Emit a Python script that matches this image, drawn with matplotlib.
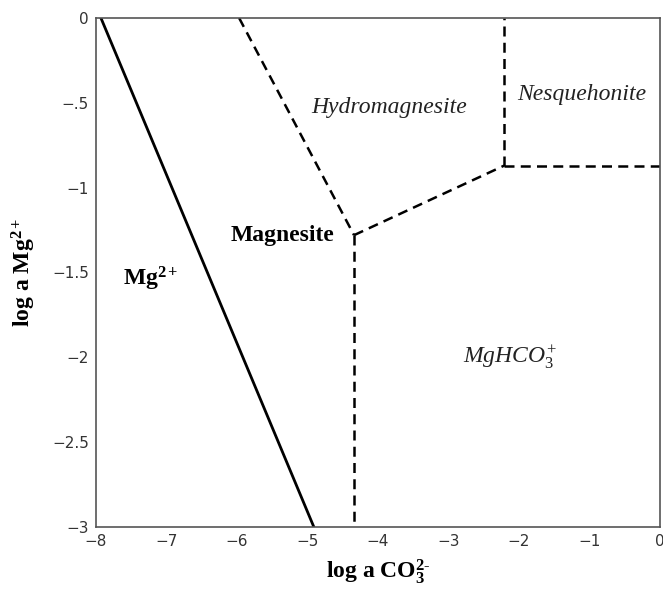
import matplotlib
matplotlib.use('Agg')
import matplotlib.pyplot as plt

serif = 'Liberation Serif'
plt.rcParams['mathtext.fontset'] = 'custom'
plt.rcParams['mathtext.rm'] = serif
plt.rcParams['mathtext.it'] = serif + ':italic'
plt.rcParams['mathtext.bf'] = serif + ':bold'

# границы полей устойчивости (log a CO3 2-, log a Mg 2+)
mg_line_x = [-7.93, -4.91]
mg_line_y = [0.0, -3.0]

triple_x, triple_y = -4.34, -1.28
nesq_x, nesq_y = -2.21, -0.87
hydro_top_x = -5.97

x_ticks = [-8, -7, -6, -5, -4, -3, -2, -1, 0]
x_tick_labels = ['\u22128', '\u22127', '\u22126', '\u22125', '\u22124', '\u22123', '\u22122', '\u22121', '0']
y_ticks = [0, -0.5, -1, -1.5, -2, -2.5, -3]
y_tick_labels = ['0', '\u2212.5', '\u22121', '\u22121.5', '\u22122', '\u22122.5', '\u22123']

fig = plt.figure(figsize=(6.63, 5.90), dpi=100)
ax = fig.add_axes([0.1448, 0.1068, 0.8507, 0.8627])

ax.plot(mg_line_x, mg_line_y, color='black', linewidth=2)

dash = dict(color='black', linewidth=1.8, linestyle=(0, (4, 2.5)))
ax.plot([hydro_top_x, triple_x], [0, triple_y], **dash)
ax.plot([triple_x, triple_x], [triple_y, -3], **dash)
ax.plot([triple_x, nesq_x], [triple_y, nesq_y], **dash)
ax.plot([nesq_x, nesq_x], [nesq_y, 0], **dash)
ax.plot([nesq_x, 0], [nesq_y, nesq_y], **dash)

ax.text(-3.84, -0.53, 'Hydromagnesite', fontsize=17, family=serif, style='italic',
        ha='center', va='center', color='#222222')
ax.text(-1.11, -0.45, 'Nesquehonite', fontsize=17, family=serif, style='italic',
        ha='center', va='center', color='#222222')
ax.text(-5.35, -1.28, 'Magnesite', fontsize=17, family=serif, weight='bold',
        ha='center', va='center')
ax.text(-7.23, -1.54, r'Mg$^{\mathbf{2+}}$', fontsize=17, family=serif, weight='bold',
        ha='center', va='center')
ax.text(-2.13, -2.0, r'$\mathit{MgHCO}_{\mathit{3}}^{\mathit{+}}$', fontsize=17, family=serif,
        ha='center', va='center', color='#222222')

ax.set_xlim(-8, 0)
ax.set_ylim(-3, 0)
ax.set_xticks(x_ticks)
ax.set_xticklabels(x_tick_labels)
ax.set_yticks(y_ticks)
ax.set_yticklabels(y_tick_labels)
ax.tick_params(length=0, labelsize=11, labelcolor='#333333', pad=5)
for sp in ax.spines.values():
    sp.set_color('#555555')
    sp.set_linewidth(1.2)

ax.set_xlabel(r'log a CO$_{\mathbf{3}}^{\mathbf{2\text{-}}}$', fontsize=17, family=serif,
              weight='bold', labelpad=6)
ax.set_ylabel(r'log a Mg$^{\mathbf{2+}}$', fontsize=17, family=serif, weight='bold', labelpad=10)

fig.savefig('out.png', dpi=100)
